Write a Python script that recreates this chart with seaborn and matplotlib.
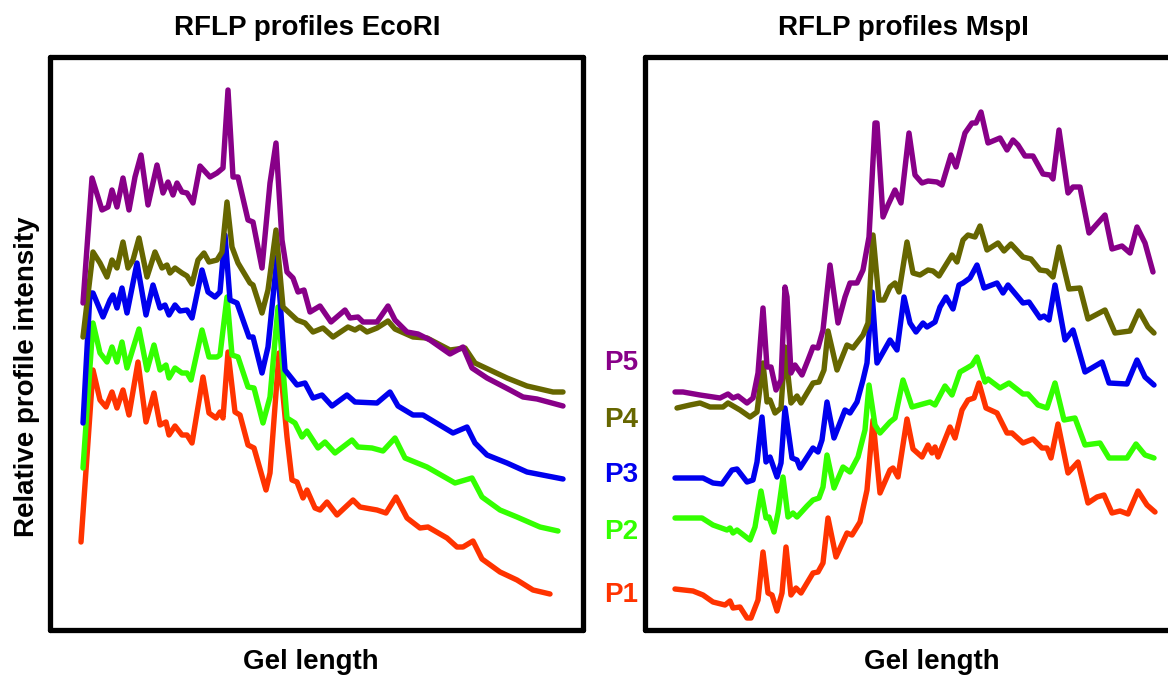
import numpy as np
import pandas as pd
import matplotlib
matplotlib.use("Agg")
import matplotlib.pyplot as plt
import seaborn as sns

# ──────────────────────────────────────────────────────────────────────────────
# Data: gel position vs relative intensity, per profile
# ──────────────────────────────────────────────────────────────────────────────

profiles = ['P1', 'P2', 'P3', 'P4', 'P5']
colors = {'P1': '#FF3300', 'P2': '#33FF00', 'P3': '#0000EE',
          'P4': '#666600', 'P5': '#880088'}

# EcoRI
eco_p5_x = [33, 42, 52, 58, 62, 67, 73, 79, 85, 91, 98, 107, 113, 118, 123, 127, 132, 137, 143,
            150, 160, 167, 173, 178, 183, 188, 198, 203, 212, 220, 226, 232, 237, 243, 248, 254,
            260, 270, 281, 295, 300, 308, 313, 327, 338, 345, 357, 368, 380, 400, 413, 422, 437,
            460, 473, 487, 513]
eco_p5_y = [327, 452, 420, 423, 440, 423, 452, 420, 453, 475, 425, 465, 437, 448, 435, 447, 438, 437,
            427, 464, 453, 457, 462, 540, 453, 453, 410, 408, 362, 447, 487, 390, 358, 352, 338, 340,
            318, 324, 308, 320, 312, 313, 308, 308, 324, 310, 298, 296, 290, 276, 283, 262, 252,
            240, 233, 231, 224]

eco_p4_x = [33, 43, 50, 57, 62, 67, 73, 78, 83, 89, 97, 105, 112, 117, 120, 125, 132, 137, 142,
            148, 154, 159, 167, 172, 177, 182, 188, 200, 203, 212, 218, 226, 233, 247, 255, 263,
            273, 283, 298, 305, 310, 317, 327, 338, 345, 363, 377, 400, 415, 425, 457, 477, 503,
            513]
eco_p4_y = [293, 378, 367, 353, 370, 362, 388, 362, 370, 392, 353, 378, 362, 365, 357, 362, 357, 354,
            346, 370, 377, 368, 370, 378, 428, 383, 367, 347, 345, 317, 340, 400, 323, 310, 307,
            298, 302, 293, 303, 300, 303, 298, 302, 309, 301, 293, 292, 280, 282, 267, 252, 244,
            238, 238]

eco_p3_x = [33, 40, 43, 53, 60, 63, 67, 72, 77, 87, 96, 103, 110, 115, 119, 125, 130, 137, 142,
            152, 158, 165, 170, 175, 180, 187, 199, 203, 212, 218, 227, 235, 247, 255, 263, 272,
            282, 297, 305, 327, 340, 348, 363, 373, 403, 417, 425, 437, 457, 477, 513]
eco_p3_y = [207, 337, 337, 313, 330, 335, 322, 342, 317, 367, 315, 345, 322, 325, 315, 325, 319, 320,
            312, 360, 338, 333, 338, 395, 330, 327, 293, 293, 257, 283, 373, 260, 245, 247, 232,
            235, 224, 235, 228, 227, 238, 224, 215, 215, 197, 203, 187, 175, 167, 158, 151]

eco_p2_x = [33, 43, 50, 57, 62, 67, 72, 77, 89, 97, 104, 110, 116, 119, 125, 132, 137, 141, 152,
            159, 167, 170, 177, 182, 188, 198, 204, 213, 220, 228, 237, 245, 252, 257, 268, 275,
            285, 302, 308, 322, 333, 345, 355, 377, 405, 422, 432, 450, 467, 490, 508]
eco_p2_y = [162, 307, 277, 268, 283, 268, 288, 262, 301, 260, 285, 260, 265, 252, 262, 257, 257, 250,
            300, 273, 273, 275, 333, 275, 273, 243, 242, 207, 233, 323, 212, 207, 193, 199, 182,
            188, 177, 190, 183, 182, 179, 192, 172, 163, 147, 152, 133, 120, 113, 103, 99]

eco_p1_x = [31, 43, 50, 56, 62, 67, 73, 79, 88, 96, 104, 110, 116, 119, 125, 132, 137, 142, 153,
            159, 166, 170, 173, 178, 185, 190, 198, 204, 216, 220, 229, 237, 242, 247, 253, 257,
            265, 270, 277, 287, 303, 310, 327, 336, 346, 357, 370, 378, 397, 407, 413, 423, 432,
            450, 467, 483, 500]
eco_p1_y = [88, 260, 230, 223, 238, 222, 240, 215, 268, 208, 237, 205, 208, 195, 204, 195, 195, 187,
            253, 217, 212, 218, 212, 278, 218, 215, 185, 182, 140, 157, 277, 193, 150, 148, 132,
            140, 122, 120, 128, 115, 130, 123, 120, 117, 133, 112, 102, 103, 92, 83, 83, 89, 71,
            58, 50, 40, 36]

# MspI
msp_p5_x = [30, 38, 55, 75, 83, 88, 93, 102, 108, 113, 118, 122, 126, 131, 136, 140, 142, 146, 150,
            157, 163, 168, 173, 178, 185, 193, 200, 205, 212, 218, 224, 230, 232, 238, 243, 250,
            256, 264, 270, 277, 283, 292, 297, 306, 311, 320, 327, 331, 336, 343, 355, 362, 368,
            373, 380, 388, 398, 405, 408, 414, 423, 428, 435, 444, 460, 467, 477, 485, 492, 500,
            508]
msp_p5_y = [238, 238, 235, 232, 236, 232, 234, 227, 232, 257, 322, 263, 263, 240, 250, 343, 333, 257,
            265, 255, 270, 283, 282, 300, 365, 307, 333, 347, 347, 360, 393, 507, 507, 413, 425,
            440, 427, 497, 455, 447, 449, 448, 445, 475, 463, 497, 507, 507, 518, 487, 492, 480,
            490, 485, 474, 474, 456, 455, 451, 500, 437, 443, 443, 397, 415, 381, 384, 377, 403,
            387, 358]

msp_p4_x = [32, 45, 55, 65, 78, 83, 95, 105, 112, 118, 122, 125, 130, 136, 140, 146, 152, 156, 168,
            174, 179, 183, 192, 202, 208, 218, 223, 228, 234, 239, 245, 250, 254, 262, 268, 275,
            283, 288, 294, 307, 312, 318, 323, 330, 335, 342, 353, 359, 366, 378, 386, 395, 402,
            408, 414, 424, 435, 443, 460, 470, 485, 494, 503, 509]
msp_p4_y = [222, 225, 227, 223, 223, 227, 220, 213, 218, 267, 228, 230, 217, 222, 283, 227, 234, 227,
            247, 248, 260, 299, 260, 285, 282, 295, 307, 395, 330, 330, 343, 347, 338, 388, 357,
            355, 360, 359, 354, 375, 368, 390, 395, 393, 404, 380, 387, 379, 386, 373, 371, 360,
            359, 353, 383, 341, 342, 311, 320, 297, 299, 319, 303, 297]

msp_p3_x = [30, 58, 68, 77, 87, 92, 102, 108, 112, 117, 121, 125, 132, 136, 140, 147, 152, 155, 168,
            173, 177, 182, 189, 200, 205, 212, 218, 222, 227, 232, 245, 252, 259, 265, 271, 278,
            282, 290, 295, 301, 308, 314, 318, 325, 332, 339, 352, 358, 363, 378, 384, 395, 399,
            404, 410, 420, 428, 440, 457, 464, 482, 492, 500, 509]
msp_p3_y = [152, 152, 147, 146, 160, 161, 148, 150, 168, 213, 168, 173, 153, 167, 222, 172, 170, 162,
            182, 178, 190, 228, 192, 220, 217, 228, 250, 267, 338, 267, 290, 280, 333, 307, 298,
            307, 303, 308, 323, 333, 321, 345, 347, 352, 365, 342, 347, 337, 345, 327, 328, 312,
            314, 310, 345, 290, 300, 258, 268, 247, 246, 270, 253, 245]

msp_p2_x = [30, 57, 68, 82, 85, 88, 92, 105, 110, 116, 121, 124, 129, 133, 138, 143, 148, 152, 162,
            168, 174, 178, 182, 189, 198, 205, 213, 220, 224, 230, 235, 245, 250, 258, 267, 285,
            290, 300, 307, 315, 322, 327, 332, 340, 343, 355, 364, 378, 383, 393, 402, 410, 419,
            430, 440, 455, 464, 482, 491, 500, 509]
msp_p2_y = [112, 112, 105, 100, 102, 97, 100, 90, 103, 139, 112, 113, 98, 117, 153, 113, 117, 113,
            124, 130, 132, 143, 175, 142, 163, 158, 173, 200, 245, 205, 197, 208, 212, 250, 223,
            228, 225, 244, 235, 258, 262, 265, 273, 248, 251, 242, 247, 236, 236, 225, 222, 247,
            210, 212, 185, 187, 172, 172, 186, 175, 172]

msp_p1_x = [30, 48, 58, 68, 80, 85, 88, 95, 102, 106, 113, 118, 123, 127, 132, 137, 141, 146, 151,
            156, 168, 173, 178, 183, 191, 202, 207, 215, 222, 228, 235, 245, 248, 253, 262, 268,
            277, 283, 287, 290, 293, 305, 310, 317, 323, 329, 334, 341, 352, 362, 367, 378, 388,
            397, 402, 406, 413, 423, 433, 443, 452, 459, 467, 475, 483, 493, 502, 510]
msp_p1_y = [41, 39, 35, 28, 25, 29, 22, 23, 12, 12, 30, 78, 37, 35, 19, 37, 83, 35, 42, 37, 57, 58,
            67, 112, 73, 97, 95, 108, 140, 210, 137, 160, 162, 153, 211, 181, 173, 185, 177, 183,
            173, 203, 192, 220, 230, 232, 247, 222, 217, 197, 197, 187, 191, 182, 182, 172, 206,
            157, 168, 127, 133, 135, 117, 119, 116, 139, 125, 118]

ecori = {'P1': (eco_p1_x, eco_p1_y), 'P2': (eco_p2_x, eco_p2_y), 'P3': (eco_p3_x, eco_p3_y),
         'P4': (eco_p4_x, eco_p4_y), 'P5': (eco_p5_x, eco_p5_y)}
mspi = {'P1': (msp_p1_x, msp_p1_y), 'P2': (msp_p2_x, msp_p2_y), 'P3': (msp_p3_x, msp_p3_y),
        'P4': (msp_p4_x, msp_p4_y), 'P5': (msp_p5_x, msp_p5_y)}


def to_long(profile_dict):
    frames = []
    for name in profiles:
        xs, ys = profile_dict[name]
        frames.append(pd.DataFrame({'gel': xs, 'intensity': ys, 'profile': name}))
    return pd.concat(frames, ignore_index=True)


# ──────────────────────────────────────────────────────────────────────────────
# Figure
# ──────────────────────────────────────────────────────────────────────────────

sns.set_style('white')
plt.rcParams['font.family'] = ['Liberation Sans', 'DejaVu Sans']

W, H = 1168, 677
fig = plt.figure(figsize=(W / 100, H / 100), dpi=100)


def fxy(x, y):
    return x / W, 1 - y / H


ax_eco = fig.add_axes([50 / W, 47 / H, 533 / W, 573 / H])
ax_msp = fig.add_axes([645 / W, 47 / H, 533 / W, 573 / H])

for ax, data in [(ax_eco, ecori), (ax_msp, mspi)]:
    df = to_long(data)
    sns.lineplot(data=df, x='gel', y='intensity', hue='profile', palette=colors,
                 estimator=None, sort=False, linewidth=3.9, legend=False, ax=ax,
                 solid_capstyle='round', solid_joinstyle='round')
    ax.set_xlim(0, 533)
    ax.set_ylim(0, 573)
    ax.set_xticks([])
    ax.set_yticks([])
    ax.set_xlabel('')
    ax.set_ylabel('')
    for sp in ax.spines.values():
        sp.set_visible(True)
        sp.set_color('black')
        sp.set_linewidth(3.8)
        sp.set_capstyle('round')

font_kw = dict(fontsize=20, fontweight='bold', color='black', ha='center', va='center')
fig.text(*fxy(307, 28), 'RFLP profiles EcoRI', **font_kw)
fig.text(*fxy(903, 28), 'RFLP profiles MspI', **font_kw)
fig.text(*fxy(311, 662), 'Gel length', **font_kw)
fig.text(*fxy(932, 662), 'Gel length', **font_kw)
fig.text(*fxy(27, 377), 'Relative profile intensity', rotation=90, **font_kw)

label_y = {'P5': 363, 'P4': 420, 'P3': 475, 'P2': 532, 'P1': 595}
for name in profiles:
    fig.text(*fxy(621, label_y[name]), name, fontsize=20, fontweight='bold',
             color=colors[name], ha='center', va='center')

fig.savefig('out.png', dpi=100)
